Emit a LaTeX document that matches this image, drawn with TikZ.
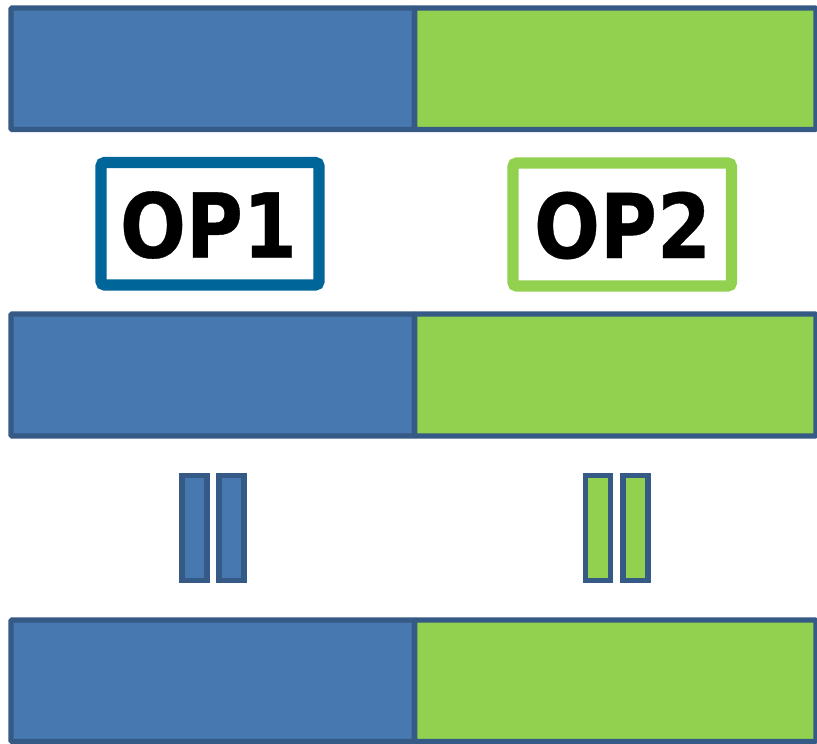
\documentclass[tikz,border=0pt]{standalone}
\usepackage{fontspec}
\newfontfamily\opfont[FakeBold=0.4]{DejaVu Sans}
\definecolor{barblue}{HTML}{4878B0}
\definecolor{bargreen}{HTML}{92D050}
\definecolor{edge}{HTML}{355A86}
\definecolor{opblue}{HTML}{006699}
\begin{document}
\begin{tikzpicture}[x=0.75pt,y=-0.75pt,
  barbox/.style={draw=edge,line width=4.1pt,rounded corners=1pt},
  opbox/.style={draw,fill=white,line width=8.6pt,rounded corners=3pt,inner sep=0pt},
  pausebar/.style={draw=edge,line width=4.1pt},
  optext/.style={font=\opfont\bfseries\fontsize{67}{67}\selectfont,text=black}]
\useasboundingbox (0,0) rectangle (817,743);
% bars
\foreach \yt/\yb in {8/129.5,314/436,620/741.5}{
  \filldraw[barbox,fill=barblue] (11,\yt) rectangle (414.7,\yb);
  \filldraw[barbox,fill=bargreen] (414.7,\yt) rectangle (816,\yb);
}
% operator boxes
\draw[opbox,draw=opblue] (101,162.5) rectangle (319,285) node[midway] (op1) {};
\draw[opbox,draw=bargreen] (513,163) rectangle (731.5,286) node[midway] (op2) {};
\node[optext] (t1) at (208.5,225) {\scalebox{0.87}[1]{OP1}};
\node[optext] (t2) at (622.5,225.5) {\scalebox{0.87}[1]{OP2}};
% parallel signs
\filldraw[pausebar,fill=barblue] (182,475.5) rectangle (207,580.5);
\filldraw[pausebar,fill=barblue] (219,475.5) rectangle (244,580.5);
\filldraw[pausebar,fill=bargreen] (585.5,475.5) rectangle (610.5,580.5);
\filldraw[pausebar,fill=bargreen] (623,475.5) rectangle (648,580.5);
\end{tikzpicture}
\end{document}
